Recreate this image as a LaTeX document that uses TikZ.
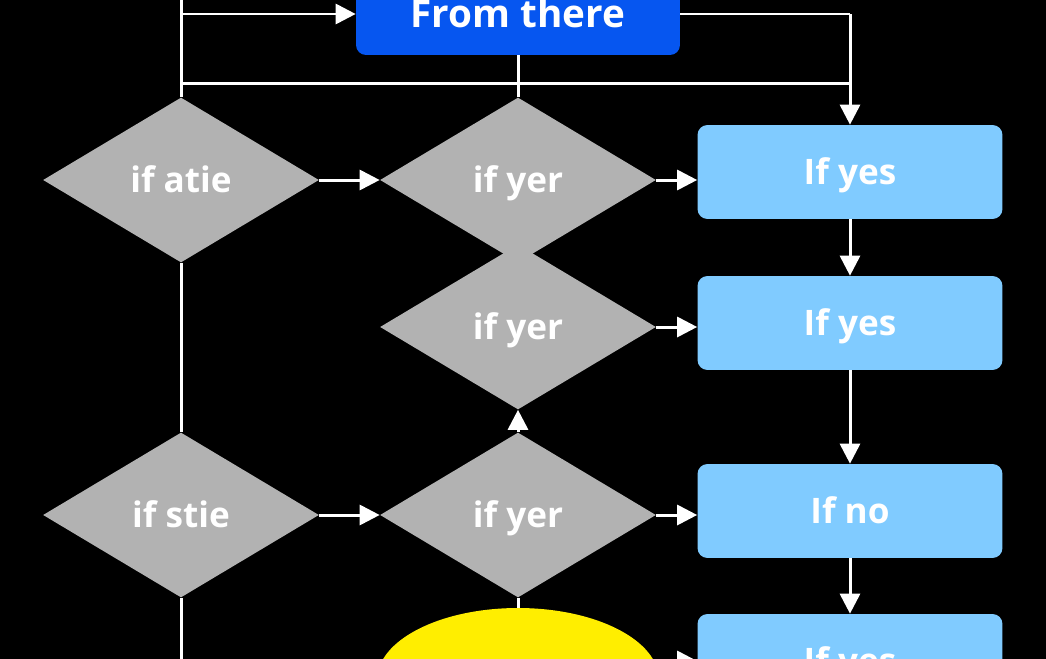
\documentclass[tikz,border=0pt]{standalone}
\usepackage{fontspec}
\setmainfont{Open Sans}
\usetikzlibrary{shapes.geometric,arrows.meta}
\definecolor{topblue}{RGB}{6,86,240}
\definecolor{paleblue}{RGB}{128,203,255}
\definecolor{diagray}{RGB}{178,178,178}
\definecolor{lemon}{RGB}{255,238,0}
\tikzset{decision/.style={diamond, fill=diagray, inner sep=0pt, minimum width=5.52cm, minimum height=3.3cm, text=white, text height=0.5cm, text depth=0pt, font=\fontsize{20}{24}\selectfont\bfseries},
         answer/.style={fill=paleblue, rounded corners=0.2cm, minimum width=6.1cm, minimum height=1.88cm, text=white, text height=0.5cm, text depth=0pt, font=\fontsize{20}{24}\selectfont\bfseries},
         start/.style={fill=topblue, rounded corners=0.2cm, minimum width=6.48cm, minimum height=1.64cm, text=white, text height=0.55cm, text depth=0pt, font=\fontsize{22}{26}\selectfont\bfseries},
         ending/.style={ellipse, fill=lemon, inner sep=0pt, minimum width=5.64cm, minimum height=2.88cm},
         flow/.style={white, line width=0.06cm},
         arr/.style={flow, -{Triangle[length=0.4cm,width=0.4cm]}}}
\begin{document}
\begin{tikzpicture}[x=0.02cm,y=-0.02cm]
        \fill[black](0,0) rectangle (1046,659);
        \useasboundingbox (0,0) rectangle (1046,659);
        \clip (0,0) rectangle (1046,659);

        \node[start](from)at(518,14){From there};

        \node[decision](d1)at(181,180){if atie};
        \node[decision](d2)at(518,180){if yer};
        \node[decision](d3)at(518,327){if yer};
        \node[decision](d4)at(181,515){if stie};
        \node[decision](d5)at(518,515){if yer};
        \node[ending](ell)at(518,680){};

        \node[answer](b1)at(850,172){If yes};
        \node[answer](b2)at(850,323){If yes};
        \node[answer](b3)at(850,511){If no};
        \node[answer](b4)at(850,661){If yes};

        \coordinate(topL)at(181,-10);
        \coordinate(topR)at(from.east -| b1.north);
        \coordinate(midL)at(181,83);
        \coordinate(midR)at(850,83);
        \coordinate(botL)at(181,670);

        \draw[flow](topL)--(d1.north);
        \draw[arr](topL |- from.west)--(from.west);
        \draw[flow](from.east)--(topR);
        \draw[arr](topR)--(b1.north);
        \draw[flow](midL)--(midR);
        \draw[flow](from.south)--(d2.north);

        \draw[arr](d1.east)--(d2.west);
        \draw[arr](d2.east)--(d2.east -| b1.west);
        \draw[arr](d3.east)--(d3.east -| b2.west);
        \draw[arr](d4.east)--(d5.west);
        \draw[arr](d5.east)--(d5.east -| b3.west);
        \draw[arr](ell.east |- b4.west)--(b4.west);

        \draw[arr](b1.south)--(b2.north);
        \draw[arr](b2.south)--(b3.north);
        \draw[arr](b3.south)--(b4.north);

        \draw[arr](d5.north)--(d3.south);
        \draw[flow](d1.south)--(d4.north);
        \draw[flow](d4.south)--(botL);
        \draw[flow](d5.south)--(ell.north);
    \end{tikzpicture}
\end{document}
